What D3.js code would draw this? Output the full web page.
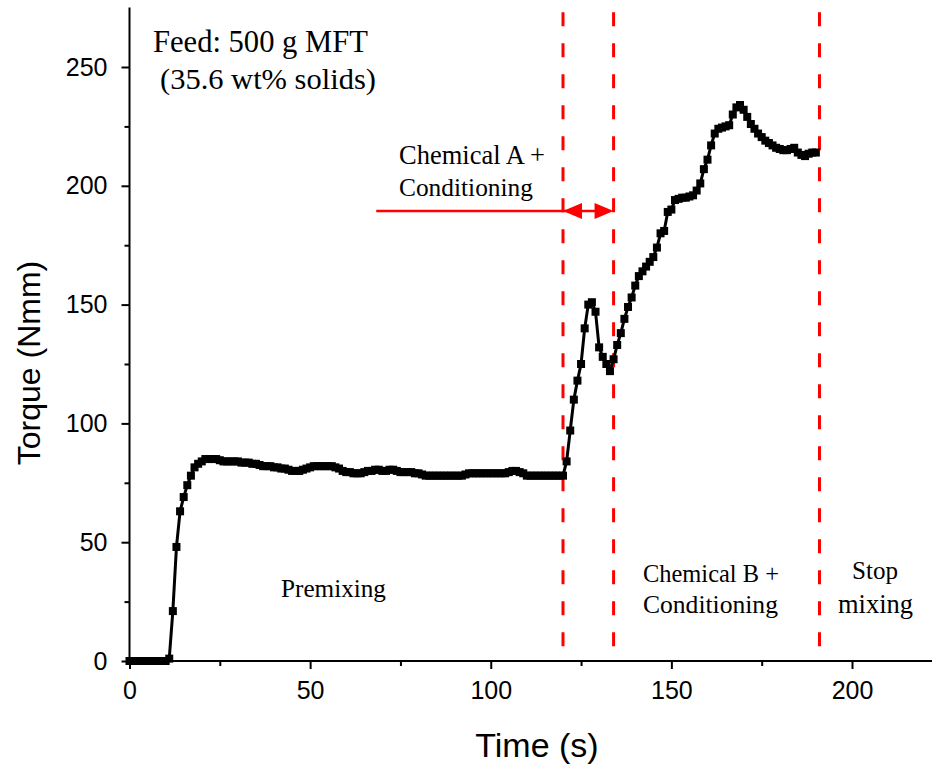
<!DOCTYPE html>
<html><head><meta charset="utf-8">
<script src="https://cdn.jsdelivr.net/npm/d3@7"></script>
<style>body{margin:0;background:#fff}svg{display:block}</style>
</head><body><svg id="c" width="932" height="766"></svg>
<script>
// Torque (Nmm) sampled every 1 s from t = 0 s
const torque = [
  0,0,0,0,0,0,0,0,0,0,0,          // 0-10
  1,21,48,63,69,74,78,81.5,83,84, // 11-20
  85,85,85,85,84.5,84,84,84,84,84, // 21-30
  83.5,83.5,83.5,83,83,82.5,82,82,82,81.5, // 31-40
  81.5,81,81,80.5,80,80,80,80.5,81,81.5,  // 41-50
  82,82,82,82,82,82,81.5,81,80,79.5,      // 51-60
  79.5,79,79,79,79.5,80,80,80.5,80.5,80,  // 61-70
  80,80.5,80.5,80,79.5,79.5,79.5,79.5,79,79, // 71-80
  78.5,78,78,78,78,78,78,78,78,78,        // 81-90
  78,78,78.5,79,79,79,79,79,79,79,        // 91-100
  79,79,79,79,79.5,80,80,79.5,79,78,      // 101-110
  78,78,78,78,78,78,78,78,78,78,          // 111-120
  84,97,110,118,125,140,150,151,147,132,  // 121-130
  128,125,122,127,133,138,144,149,153,158, // 131-140
  162,164,166,168,170,174,180,181,189,190, // 141-150
  194,194.5,195,195,195.5,196,198,201,207,211, // 151-160
  217,222,224,224.5,225,225.5,230,233,234,232, // 161-170
  229,226,224,222,220.5,219,218,217,216,215.5, // 171-180
  215,215,215.5,216,214,213,212.5,213.5,214,214 // 181-190
];
const time = torque.map((_, i) => i);
const xTicks = [0, 50, 100, 150, 200];
const yTicks = [0, 50, 100, 150, 200, 250];
const stageLines = [120, 134, 191];   // dashed red markers (s)
const arrowSpan = {from: 68.3, left: 120, right: 134, y: 189.4};

const svg = d3.select("#c");
const x = d3.scaleLinear().domain([0, 225]).range([129.5, 129.5 + 225 * 3.6125]);
const y = d3.scaleLinear().domain([0, 275]).range([661, 661 - 275 * 2.376]);

// axes
const xAxis = d3.axisBottom(x).tickValues(xTicks).tickSize(8).tickPadding(12).tickFormat(d3.format("d"));
const xMinor = d3.axisBottom(x).tickValues([25, 75, 125, 175, 225]).tickSize(5).tickFormat("");
const yAxis = d3.axisLeft(y).tickValues(yTicks).tickSize(8).tickPadding(14).tickFormat(d3.format("d"));
const yMinor = d3.axisLeft(y).tickValues([25, 75, 125, 175, 225]).tickSize(5).tickFormat("");

function styleAxis(g) {
  g.select(".domain").attr("stroke", "#000").attr("stroke-width", 2);
  g.selectAll(".tick line").attr("stroke", "#000").attr("stroke-width", 2);
  g.selectAll("text").attr("font-family", "'Liberation Sans', Arial, sans-serif").attr("font-size", 25).attr("fill", "#000");
}
const gx = svg.append("g").attr("transform", `translate(0,${y(0)})`).call(xAxis).call(styleAxis);
gx.select(".domain").attr("d", `M${x(0)},0H${x(225)}`);
svg.append("g").attr("transform", `translate(0,${y(0)})`).call(xMinor).call(styleAxis).select(".domain").remove();
const gy = svg.append("g").attr("transform", `translate(${x(0)},0)`).call(yAxis).call(styleAxis);
gy.select(".domain").attr("d", `M0,${y(275)}V${y(0)}`);
svg.append("g").attr("transform", `translate(${x(0)},0)`).call(yMinor).call(styleAxis).select(".domain").remove();

// axis titles
svg.append("text").attr("x", 537).attr("y", 757).attr("text-anchor", "middle")
  .attr("font-family", "'Liberation Sans', Arial, sans-serif").attr("font-size", 34).text("Time (s)");
svg.append("text").attr("transform", "translate(40,363) rotate(-90)").attr("text-anchor", "middle")
  .attr("font-family", "'Liberation Sans', Arial, sans-serif").attr("font-size", 32).text("Torque (Nmm)");

// dashed stage lines
svg.selectAll("line.stage").data(stageLines).enter().append("line")
  .attr("class", "stage")
  .attr("x1", d => x(d)).attr("x2", d => x(d))
  .attr("y1", y(273)).attr("y2", y(0))
  .attr("stroke", "#ff0000").attr("stroke-width", 3).attr("stroke-dasharray", "14,17");

// data line and markers
const pts = time.map((t, i) => [t, torque[i]]);
svg.append("path").datum(pts)
  .attr("d", d3.line().x(d => x(d[0])).y(d => y(d[1])))
  .attr("fill", "none").attr("stroke", "#000").attr("stroke-width", 3);
svg.selectAll("rect.pt").data(pts).enter().append("rect")
  .attr("class", "pt")
  .attr("x", d => x(d[0]) - 4).attr("y", d => y(d[1]) - 4)
  .attr("width", 8).attr("height", 8).attr("fill", "#000");

// arrow
const ay = y(arrowSpan.y);
svg.append("line").attr("x1", x(arrowSpan.from)).attr("x2", x(arrowSpan.right) - 10)
  .attr("y1", ay).attr("y2", ay).attr("stroke", "#ff0000").attr("stroke-width", 2.5);
const xl = x(arrowSpan.left), xr = x(arrowSpan.right);
svg.append("path").attr("d", `M${xl},${ay}L${xl + 19},${ay - 8}L${xl + 19},${ay + 8}Z`).attr("fill", "#ff0000");
svg.append("path").attr("d", `M${xr},${ay}L${xr - 19},${ay - 8}L${xr - 19},${ay + 8}Z`).attr("fill", "#ff0000");

// annotation texts fitted to width
const notes = [
  {t: "Feed: 500 g MFT", x: 153, y: 52, w: 215},
  {t: "(35.6 wt% solids)", x: 160, y: 89, w: 216},
  {t: "Chemical A +", x: 399, y: 164, w: 146},
  {t: "Conditioning", x: 399, y: 196, w: 134},
  {t: "Premixing", x: 281, y: 597, w: 105},
  {t: "Chemical B +", x: 643, y: 582, w: 136},
  {t: "Conditioning", x: 643, y: 613, w: 135},
  {t: "Stop", x: 852, y: 579, w: 46},
  {t: "mixing", x: 838, y: 613, w: 75}
];
svg.selectAll("text.note").data(notes).enter().append("text")
  .attr("class", "note")
  .attr("x", d => d.x).attr("y", d => d.y)
  .attr("font-family", "'Liberation Serif', 'Times New Roman', serif")
  .attr("font-size", 22).attr("fill", "#000")
  .text(d => d.t)
  .each(function(d) {
    const w = this.getComputedTextLength();
    d3.select(this).attr("font-size", 22 * d.w / w);
  });
</script>
</body></html>
